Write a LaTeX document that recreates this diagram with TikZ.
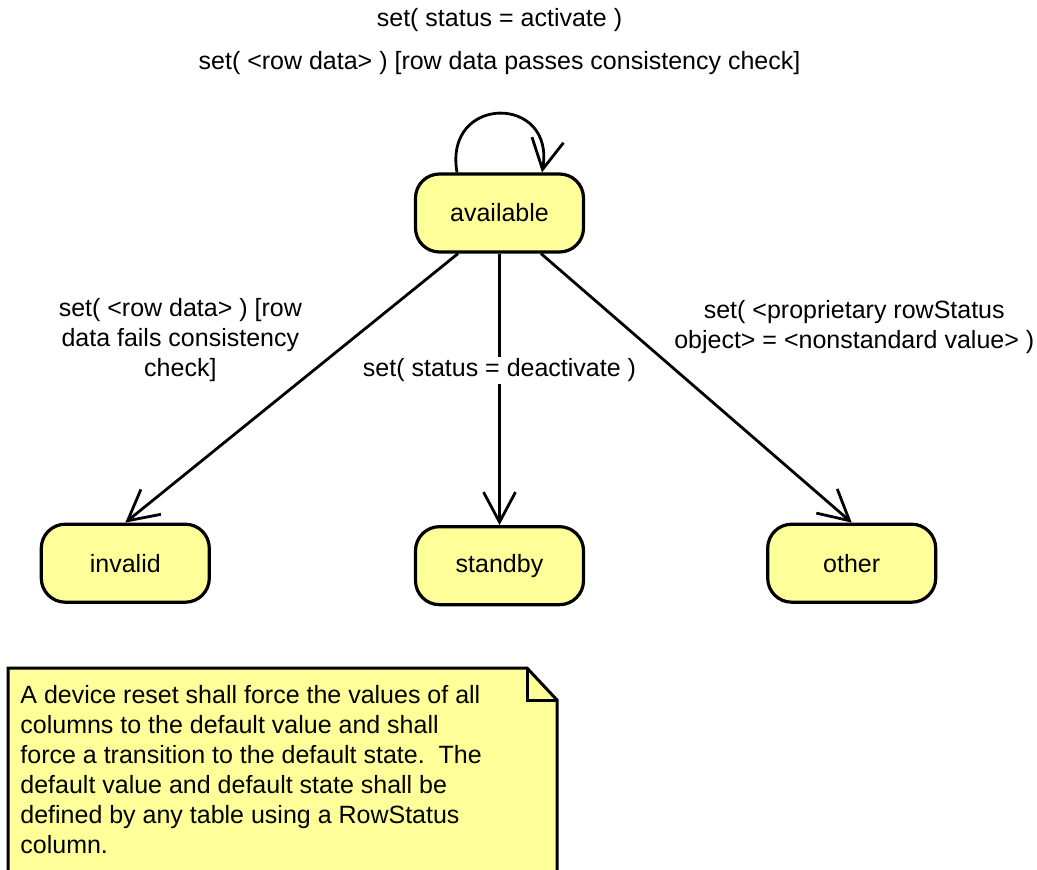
\documentclass[tikz,border=0pt]{standalone}
\usepackage{fontspec}
\setmainfont{Liberation Sans}
\usetikzlibrary{matrix,arrows.meta,positioning}
\definecolor{stateyellow}{HTML}{FFFF99}
\tikzset{
  statebox/.style={draw, line width=1.6pt, fill=stateyellow, rounded corners=12pt,
    minimum width=84pt, minimum height=39pt, inner sep=0pt},
  trans/.style={line width=1.4pt, -{Straight Barb[length=15pt, width=16pt]}},
  label text/.style={align=center, inner sep=1pt},
}

\begin{document}
\begin{tikzpicture}[x=0.5pt, y=0.5pt, font=\fontsize{12.5}{15}\selectfont]
 \useasboundingbox (0,0) rectangle (1037,869);
 \matrix (m) [matrix of nodes, nodes={statebox}, row sep=134.5pt, column sep=90.5pt,
   matrix anchor=m-1-2.center] at (499.5,656)
  {
            &[11pt] available &       \\
    invalid &[11pt] standby   & other \\
  };
  \path[trans]
  ([xshift=-20.75pt]m-1-2.south) edge node [pos=0.48, anchor=south east, xshift=3.5pt, yshift=-1pt, label text]
    {set( <row data> ) [row\\data fails consistency\\check]} (m-2-1.north)
  (m-1-2.south) edge node [pos=0.43, fill=white, label text] {set( status = deactivate )} (m-2-2.north)
  ([xshift=20.75pt]m-1-2.south) edge node [pos=0.36, anchor=south west, xshift=9pt, yshift=-3.5pt, label text]
    {set( <proprietary rowStatus\\object> = <nonstandard value> )} (m-2-3.north)
;
  \draw[trans] ([xshift=-21.25pt]m-1-2.north) to[out=100, in=80, looseness=2.4] ([xshift=21.25pt]m-1-2.north);
  \node (loopText) [above=48.5pt of m-1-2, label text, inner sep=0pt]
    {set( status = activate )\\[6.5pt]set( <row data> ) [row data passes consistency check]};

  % note
  \draw[line width=1.5pt, fill=stateyellow] (8,-10) -- (8,201) -- (527,201) -- (557,169) -- (557,-10);
  \draw[line width=1.5pt] (527,201) -- (527,169) -- (557,169);
  \node (noteText) [anchor=north west, align=left, inner sep=0pt] at (20,184)
    {A device reset shall force the values of all\\columns to the default value and shall\\force a transition to the default state.\ \ The\\default value and default state shall be\\defined by any table using a RowStatus\\column.};
\end{tikzpicture}
\end{document}
